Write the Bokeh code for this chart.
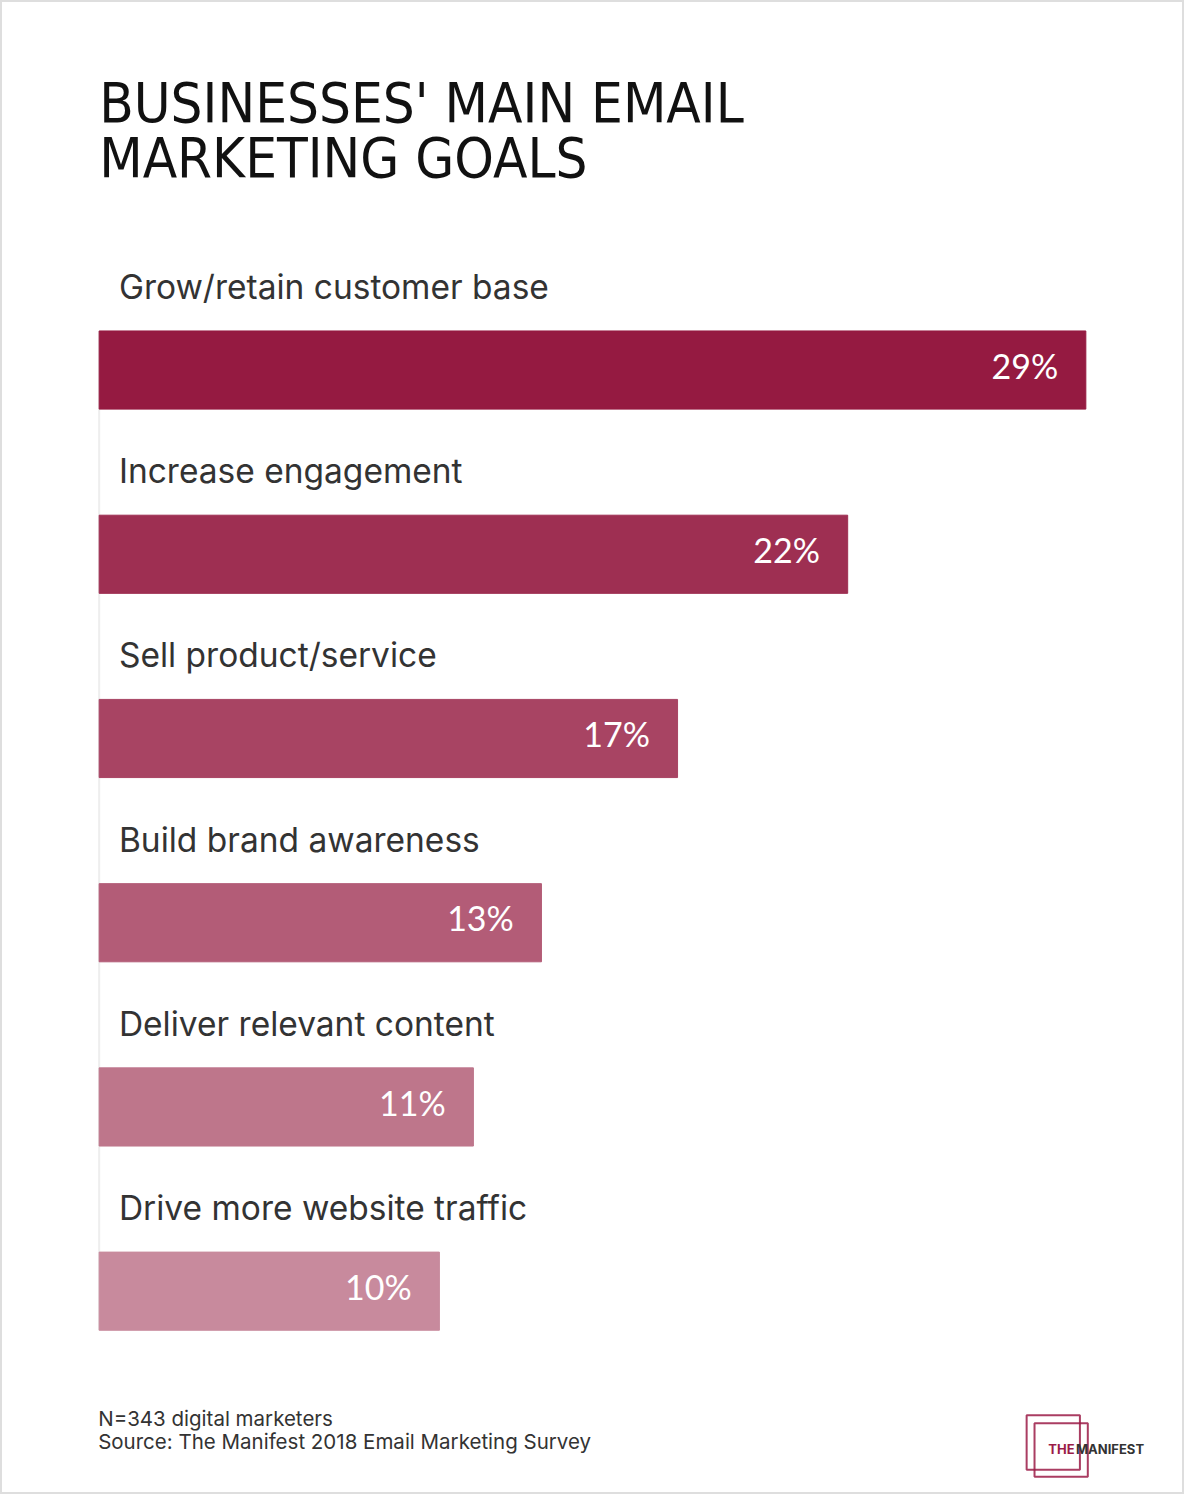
from bokeh.plotting import figure
from bokeh.models import Range1d, Label, BoxAnnotation, ColumnDataSource
from bokeh.core.properties import value
from bokeh.embed import file_html
from bokeh.resources import INLINE

# ---- data ----
goals = ["Grow/retain customer base", "Increase engagement", "Sell product/service",
         "Build brand awareness", "Deliver relevant content", "Drive more website traffic"]
shares = [29, 22, 17, 13, 11, 10]
pct_labels = ["29%", "22%", "17%", "13%", "11%", "10%"]
bar_colors = ["#951A41", "#9E2F52", "#A84463", "#B35C77", "#BE768B", "#C88A9D"]

title_lines = ["BUSINESSES' MAIN EMAIL", "MARKETING GOALS"]
footer_lines = ["N=343 digital marketers", "Source: The Manifest 2018 Email Marketing Survey"]

W, H = 1184, 1494
SX, SY = W / 1200, H / 1510          # reference-pixel -> figure-pixel


def sx(px):
    return px * SX


def sy(py):                           # screen units measured from bottom
    return H - py * SY


# x: 0 -> ref px 100, 29 -> ref px 1100
px_per_unit = sx(1000) / 29
x0 = -sx(100) / px_per_unit
x1 = x0 + W / px_per_unit
# y: rows, row i centre at ref px 373.5 + 186.2*i
row_px = 186.2 * SY
y_top = -(373.5 * SY) / row_px
y_bot = y_top + H / row_px

p = figure(width=W, height=H, output_backend="svg", toolbar_location=None,
           x_range=Range1d(x0, x1), y_range=Range1d(y_bot, y_top),
           min_border=0, background_fill_color="white", border_fill_color="white")
p.axis.visible = False
p.grid.visible = False
p.outline_line_color = "#dedede"
p.outline_line_width = 3

idx = list(range(len(goals)))
bar_h = 79 * SY / row_px
src = ColumnDataSource(dict(y=idx, right=shares, color=bar_colors, goal=goals,
                            pct=pct_labels,
                            label_y=[i - 84 * SY / row_px for i in idx],
                            pct_y=[i - 5 * SY / row_px for i in idx],
                            pct_x=[s - sx(28) / px_per_unit for s in shares]))

# faint baseline axis
p.segment(x0=[0], y0=[-bar_h / 2], x1=[0], y1=[len(goals) - 1 + bar_h / 2],
          line_color="#eeeeee", line_width=2)

p.hbar(y="y", left=0, right="right", height=bar_h, color="color", source=src)

p.text(x=sx(20) / px_per_unit, y="label_y", text="goal", source=src,
       text_font=value("Inter"), text_font_size="33.5px", text_color="#333333",
       text_baseline="middle", text_align="left")

p.text(x="pct_x", y="pct_y", text="pct", source=src,
       text_font=value("Lato"), text_font_size="34px", text_color="#ffffff",
       text_baseline="middle", text_align="right")

# title
for line, py in zip(title_lines, [103.5, 158.5]):
    p.add_layout(Label(x=sx(100), y=sy(py), x_units="screen", y_units="screen", text=line,
                       text_font="DejaVu Sans Condensed", text_font_size="56px",
                       text_color="#111111", text_baseline="middle"))

for line, py in zip(footer_lines, [1433, 1456.5]):
    p.add_layout(Label(x=sx(99), y=sy(py), x_units="screen", y_units="screen", text=line,
                       text_font="Inter", text_font_size="20.5px",
                       text_color="#333333", text_baseline="middle"))

# logo
logo_red = "#9B1B47"
for l, r, t, b in [(1040, 1094, 1430, 1485), (1048, 1102, 1438, 1492)]:
    p.add_layout(BoxAnnotation(left=sx(l), right=sx(r), bottom=sy(b), top=sy(t),
                               left_units="screen", right_units="screen",
                               bottom_units="screen", top_units="screen",
                               fill_alpha=0, line_color=logo_red, line_width=2,
                               line_alpha=0.85))
p.add_layout(Label(x=sx(1062), y=sy(1464), x_units="screen", y_units="screen", text="THE",
                   text_font="Inter", text_font_style="bold", text_font_size="13px",
                   text_color=logo_red, text_baseline="middle"))
p.add_layout(Label(x=sx(1090), y=sy(1464), x_units="screen", y_units="screen", text="MANIFEST",
                   text_font="Inter", text_font_style="bold", text_font_size="13px",
                   text_color="#333333", text_baseline="middle"))

open("out.html", "w").write(file_html(p, INLINE))
